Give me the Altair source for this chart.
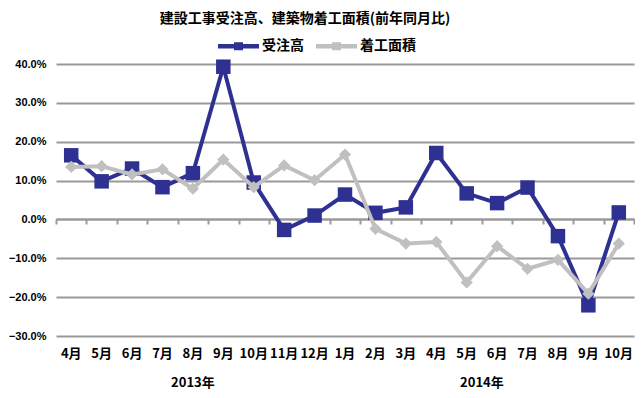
import altair as alt
import pandas as pd

months = ["2013-04", "2013-05", "2013-06", "2013-07", "2013-08", "2013-09",
          "2013-10", "2013-11", "2013-12", "2014-01", "2014-02", "2014-03",
          "2014-04", "2014-05", "2014-06", "2014-07", "2014-08", "2014-09",
          "2014-10"]
orders = [16.5, 9.8, 13.1, 8.3, 11.9, 39.3, 9.5, -2.7, 1.0, 6.4, 1.7, 3.1,
          17.1, 6.7, 4.2, 8.2, -4.3, -22.1, 1.8]
area = [13.5, 13.7, 11.6, 12.9, 7.9, 15.4, 8.3, 13.9, 10.1, 16.7, -2.4, -6.2,
        -5.8, -16.2, -6.9, -12.7, -10.4, -19.1, -6.2]
series_names = ["受注高", "着工面積"]
year_labels = ["2013年", "2014年"]
year_centers = ["2013-08", "2014-05"]
y_ticks = [-30, -20, -10, 0, 10, 20, 30, 40]
title_text = "建設工事受注高、建築物着工面積(前年同月比)"

BLUE = "#2E3192"
GRAY = "#C0C0C0"
GRID = "#999999"
FONT = "Noto Sans CJK JP"
W, H = 578, 272

df = pd.DataFrame({
    "month": months * 2,
    "value": orders + area,
    "series": [series_names[0]] * len(months) + [series_names[1]] * len(months),
})
years = pd.DataFrame({"label": year_labels, "pos": year_centers})

xscale = alt.Scale(type="band", domain=months, paddingInner=0, paddingOuter=0)
yscale = alt.Scale(domain=[-30, 40], nice=False, zero=False)
yaxis = alt.Axis(values=y_ticks, labelExpr="format(datum.value, '.1f') + '%'",
                 grid=True, gridColor=GRID, gridWidth=2, domain=False, ticks=False,
                 title=None, labelFont="Liberation Sans", labelFontSize=11,
                 labelFontWeight="bold", labelColor="#000", labelPadding=10)

LEG_PATH = "M-1,-0.11H1V0.11H-1Z M-0.22,-0.2H0.22V0.2H-0.22Z"
legend = alt.Legend(title=None, orient="none", legendX=162, legendY=-38.5,
                    direction="horizontal", symbolType=LEG_PATH, symbolSize=1681,
                    symbolStrokeWidth=0, symbolOpacity=1, labelFont=FONT,
                    labelFontSize=14, labelFontWeight="bold", labelColor="#000",
                    columnPadding=12, labelOffset=3)
color = alt.Color("series:N", scale=alt.Scale(domain=series_names, range=[BLUE, GRAY]),
                  legend=legend)

main_xaxis = alt.Axis(orient="bottom", domain=False, ticks=False, grid=False, title=None,
                      labelExpr="toNumber(substring(datum.value, 5, 7)) + '月'",
                      labelFont=FONT, labelFontSize=13, labelFontWeight="bold",
                      labelColor="#000", labelPadding=11, labelAngle=0)
zero_xaxis = alt.Axis(orient="bottom", offset=-117, labels=False, ticks=True,
                      tickBand="extent", tickSize=5, tickColor=GRID, tickWidth=2,
                      domain=True, domainColor=GRID, domainWidth=2, grid=False, title=None)

y = alt.Y("value:Q", scale=yscale, axis=yaxis)
base = alt.Chart(df)

zero_layer = base.mark_line(opacity=0).encode(
    x=alt.X("month:N", scale=xscale, axis=zero_xaxis), y=y, detail="series:N")

blue = base.transform_filter(alt.datum.series == series_names[0])
gray = base.transform_filter(alt.datum.series == series_names[1])

blue_line = blue.mark_line(color=BLUE, strokeWidth=4).encode(
    x=alt.X("month:N", scale=xscale, axis=main_xaxis), y=y)
blue_pts = blue.mark_point(shape="square", filled=True, size=210, opacity=1).encode(
    x=alt.X("month:N", scale=xscale, axis=None), y=y, color=color)
gray_line = gray.mark_line(color=GRAY, strokeWidth=4).encode(
    x=alt.X("month:N", scale=xscale, axis=None), y=y)
gray_pts = gray.mark_point(shape="diamond", filled=True, size=150, opacity=1).encode(
    x=alt.X("month:N", scale=xscale, axis=None), y=y, color=color)

yr = alt.Chart(years)
yr1 = yr.transform_filter(alt.datum.pos == year_centers[0]).mark_text(
    font=FONT, fontSize=13, fontWeight="bold", color="#000", baseline="middle").encode(
    x=alt.X("pos:N", scale=xscale, axis=None), y=alt.value(H + 47), text="label:N")
yr2 = yr.transform_filter(alt.datum.pos == year_centers[1]).mark_text(
    font=FONT, fontSize=13, fontWeight="bold", color="#000", baseline="middle",
    dx=W / len(months) / 2).encode(
    x=alt.X("pos:N", scale=xscale, axis=None), y=alt.value(H + 47), text="label:N")

chart = alt.layer(zero_layer, blue_line, blue_pts, gray_line, gray_pts, yr1, yr2).resolve_axis(
    x="independent"
).properties(
    width=W, height=H, padding={"top": 3, "left": 0, "right": 0, "bottom": 0},
    title=alt.TitleParams(title_text, font=FONT, fontSize=14, fontWeight="bold",
                          color="#000", anchor="middle", dx=-40, offset=0),
).configure_view(stroke=None)

chart.save("out.html", embed_options={"renderer": "svg", "actions": False})
